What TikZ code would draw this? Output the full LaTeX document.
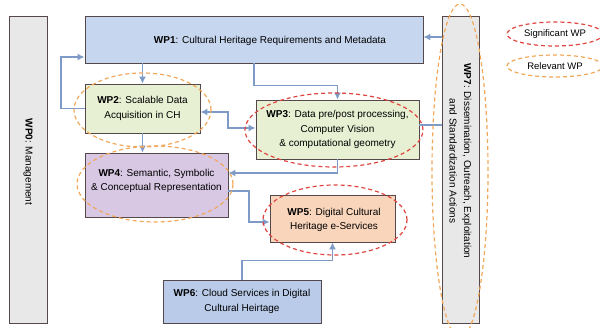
\documentclass[tikz,border=0pt]{standalone}
\usepackage{fontspec}
\setmainfont{Liberation Sans}
\usetikzlibrary{arrows.meta,shapes.geometric}
\definecolor{bordc}{HTML}{54484A}
\definecolor{grayf}{HTML}{E8E8E8}
\definecolor{bluef}{HTML}{C6D6EE}
\definecolor{blue6}{HTML}{B9CBE8}
\definecolor{greenf}{HTML}{E8F0D3}
\definecolor{lavf}{HTML}{D8C8E4}
\definecolor{peachf}{HTML}{F9D5BB}
\definecolor{arrc}{HTML}{7E9BC8}
\definecolor{redd}{HTML}{E0453F}
\definecolor{orad}{HTML}{F2A85A}
\tikzset{
  x=1pt,y=-1pt,
  box/.style={draw=bordc,line width=0.9pt,inner sep=2pt,align=center,
    font=\fontsize{10}{14.5}\selectfont},
  arr/.style={draw=arrc,line width=1.5pt,-{Latex[length=7pt,width=7pt]}},
  arrb/.style={draw=arrc,line width=1.5pt,{Latex[length=7pt,width=7pt]}-{Latex[length=7pt,width=7pt]}},
  plainline/.style={draw=arrc,line width=1.3pt},
  sig/.style={ellipse,draw=redd,line width=1.2pt,dash pattern=on 4pt off 3pt,inner sep=0pt},
  rel/.style={ellipse,draw=orad,line width=1.2pt,dash pattern=on 4pt off 3pt,inner sep=0pt},
}
\begin{document}
\begin{tikzpicture}
\useasboundingbox[fill=white] (0,0) rectangle (600,328);
% boxes
\node[box,fill=grayf,minimum width=38pt,minimum height=307pt] (wp0) at (28,169.5) {};
\node[rotate=-90,font=\fontsize{10}{14.5}\selectfont] (wp0t) at (28,162) {\textbf{WP0}: Management};
\node[box,fill=bluef,minimum width=338pt,minimum height=47pt] (wp1) at (254,39.5) {};
\node[font=\fontsize{10}{14.5}\selectfont] (wp1t) at (270,41) {\textbf{WP1}: Cultural Heritage Requirements and Metadata};
\node[box,fill=greenf,minimum width=115pt,minimum height=49pt] (wp2) at (142.5,108.5) {\textbf{WP2}: Scalable Data\\Acquisition in CH};
\node[box,fill=greenf,minimum width=163pt,minimum height=59pt] (wp3) at (337.5,129.5) {\textbf{WP3}: Data pre/post processing,\\Computer Vision\\{\fontsize{10}{12}\selectfont \& computational geometry}};
\node[box,fill=lavf,minimum width=143pt,minimum height=64pt] (wp4) at (156.5,185) {};
\node[font=\fontsize{10}{14.5}\selectfont,align=center] (wp4t) at (156.5,181) {\textbf{WP4}: Semantic, Symbolic\\\& Conceptual Representation};
\node[box,fill=peachf,minimum width=125pt,minimum height=47pt] (wp5) at (332.5,218.5) {};
\node[font=\fontsize{10}{14.5}\selectfont,align=center] (wp5t) at (334,220) {\textbf{WP5}: Digital Cultural\\Heritage e-Services};
\node[box,fill=blue6,minimum width=158pt,minimum height=43pt] (wp6) at (242,301.5) {\textbf{WP6}: Cloud Services in Digital\\Cultural Heirtage};
\node[box,fill=grayf,minimum width=37pt,minimum height=307pt] (wp7) at (460.5,169.5) {};
\node[rotate=-90,font=\fontsize{10}{14.5}\selectfont,align=center] (wp7t) at (460.5,161) {\textbf{WP7}: Dissemination, Outreach, Exploitation\\and Standardization Actions};
% connectors
\draw[arr] (wp2.north |- wp1.south) -- (wp2.north);
\draw[arr] (wp2.west) -- (61,108.5) -- (61,57) -- (wp1.west |- 0,57);
\draw[arr] (wp1.south) -- ++(0,22) -| (wp3.north);
\draw[arrb] (wp2.east |- 0,112) -- (228,112) -- (228,128) -- (wp3.west |- 0,128);
\draw[arr] (wp2.south) -- (wp2.south |- wp4.north);
\draw[arr] (wp3.south) |- (wp4.east |- 0,173);
\draw[arr] (wp4.east |- 0,191) -- (249,191) |- (wp5.west |- 0,222);
\draw[arr] (wp6.north) -- ++(0,-19) -| (wp5.south);
\draw[arr] (wp7.west |- 0,37) -- (wp1.east |- 0,37);
\draw[plainline] (wp7.west |- 0,125) -- (wp3.east |- 0,125);
% highlight ellipses
\node[rel,minimum width=137pt,minimum height=74pt] (e2) at (142.5,110) {};
\node[sig,minimum width=178pt,minimum height=74pt] (e3) at (334,130) {};
\node[rel,minimum width=156pt,minimum height=76pt] (e4) at (155,184) {};
\node[sig,minimum width=144pt,minimum height=70pt] (e5) at (335,220) {};
\node[rel,minimum width=56pt,minimum height=334pt] (e7) at (460,171) {};
% legend
\node[sig,minimum width=96pt,minimum height=24pt,font=\fontsize{9.5}{11}\selectfont] (lsig) at (555,34) {Significant WP};
\node[rel,minimum width=96pt,minimum height=22pt,font=\fontsize{9.5}{11}\selectfont] (lrel) at (555,66) {Relevant WP};
\end{tikzpicture}
\end{document}
